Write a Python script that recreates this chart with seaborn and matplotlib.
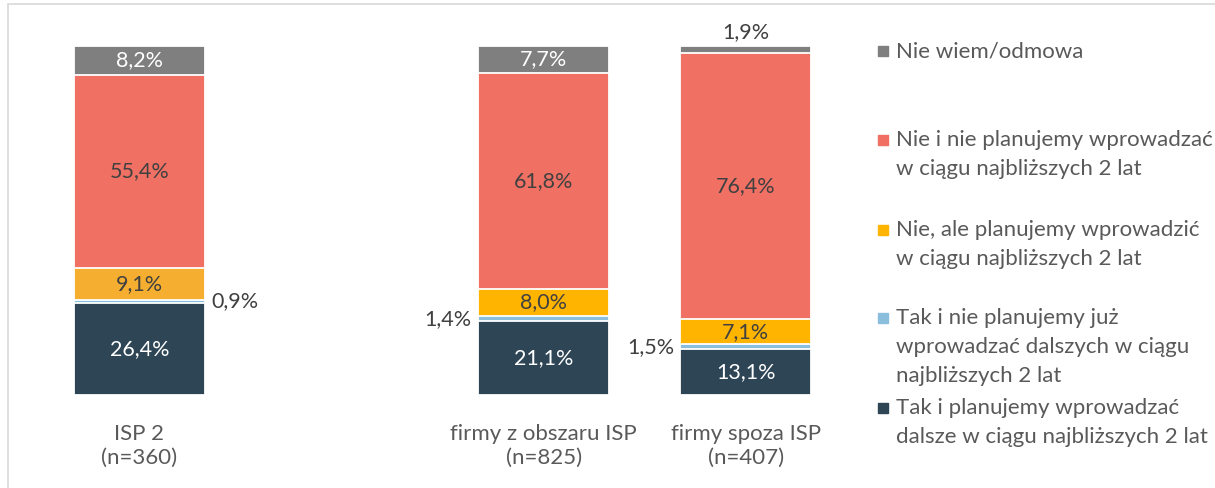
import pandas as pd
import numpy as np
import matplotlib
matplotlib.use("Agg")
import matplotlib.pyplot as plt
import seaborn as sns
from matplotlib.patches import Rectangle

# data (percent), stacked bottom -> top
groups = ["ISP 2\n(n=360)", "firmy z obszaru ISP\n(n=825)", "firmy spoza ISP\n(n=407)"]
order = [groups[0], " ", groups[1], groups[2]]
segments = [
    "Tak i planujemy wprowadzać\ndalsze w ciągu najbliższych 2 lat",
    "Tak i nie planujemy już\nwprowadzać dalszych w ciągu\nnajbliższych 2 lat",
    "Nie, ale planujemy wprowadzić\nw ciągu najbliższych 2 lat",
    "Nie i nie planujemy wprowadzać\nw ciągu najbliższych 2 lat",
    "Nie wiem/odmowa",
]
tak_plan = [26.4, 21.1, 13.1]
tak_nie_plan = [0.9, 1.4, 1.5]
nie_ale_plan = [9.1, 8.0, 7.1]
nie_nie_plan = [55.4, 61.8, 76.4]
nie_wiem = [8.2, 7.7, 1.9]
values = [tak_plan, tak_nie_plan, nie_ale_plan, nie_nie_plan, nie_wiem]

colors = ["#2E4556", "#8BBEDC", "#FFB400", "#F07064", "#7F7F7F"]
orange_isp2 = "#F5AE2F"
label_colors = ["white", "#404040", "#404040", "#404040", "white"]

df = pd.DataFrame({"group": groups})
for name, v in zip(segments, values):
    df[name] = v
cum = df[segments].cumsum(axis=1)
cum["group"] = groups

plt.rcParams["font.family"] = ["Lato", "DejaVu Sans"]
fig = plt.figure(figsize=(12.15, 4.88), dpi=100)
W, H = 1215, 488
ax = fig.add_axes([18 / W, 93 / H, 849 / W, 349 / H])

# draw cumulative bars from top layer down so each segment shows
for i in range(len(segments) - 1, -1, -1):
    if i == 2:
        pal = {g: (orange_isp2 if g == groups[0] else colors[2]) for g in groups}
    else:
        pal = {g: colors[i] for g in groups}
    sns.barplot(data=cum, x="group", y=segments[i], hue="group", palette=pal,
                order=order, hue_order=groups, width=0.65, dodge=False,
                edgecolor="white", linewidth=1.3, saturation=1, legend=False, ax=ax)

ax.set_ylim(0, 100)
ax.set_xlim(-0.6, 3.6)
pos = {g: order.index(g) for g in groups}

# data labels
nfs = 15.5
for j, g in enumerate(groups):
    x = pos[g]
    bottom = 0
    for i, name in enumerate(segments):
        v = values[i][j]
        mid = bottom + v / 2
        txt = f"{v:.1f}".replace(".", ",") + "%"
        if i == 1:
            if j == 0:
                ax.text(x + 0.325 + 0.03, mid, txt, ha="left", va="center",
                        fontsize=nfs, color="#404040")
            else:
                ax.text(x - 0.325 - 0.03, mid, txt, ha="right", va="center",
                        fontsize=nfs, color="#404040")
        elif v < 3:
            ax.text(x, bottom + v + 1.2, txt, ha="center", va="bottom",
                    fontsize=nfs, color="#404040")
        else:
            ax.text(x, mid, txt, ha="center", va="center", fontsize=nfs,
                    color=label_colors[i])
        bottom += v

ax.set_xlabel("")
ax.set_ylabel("")
ax.set_yticks([])
ax.tick_params(axis="x", length=0, pad=21, labelsize=16, labelcolor="#595959")
for s in ax.spines.values():
    s.set_visible(False)

# legend (top entry first)
leg_y = [51, 140, 230, 318, 408]
for k, i in enumerate(range(len(segments) - 1, -1, -1)):
    y = leg_y[k]
    fig.patches.append(Rectangle((878 / W, 1 - (y + 5) / H), 10 / W, 10 / H,
                                 transform=fig.transFigure, color=colors[i], figure=fig))
    for n, line in enumerate(segments[i].split("\n")):
        fig.text(896 / W, 1 - (y + 29 * n) / H, line, ha="left", va="center",
                 fontsize=16, color="#595959")

# outer frame
fig.patches.append(Rectangle((8 / W, -0.5), 2, 1.5 - 4 / H, transform=fig.transFigure,
                             fill=False, edgecolor="#D9D9D9", linewidth=1.2, figure=fig))

fig.savefig("out.png", dpi=100)
